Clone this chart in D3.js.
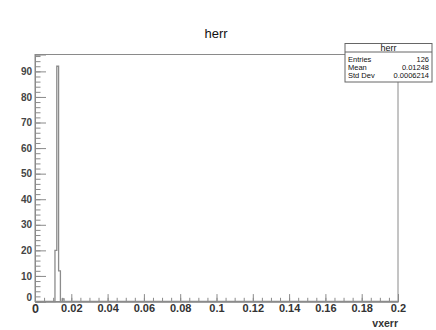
<!DOCTYPE html>
<html>
<head>
<meta charset="utf-8">
<script src="https://cdn.jsdelivr.net/npm/d3@7"></script>
<style>
  body { margin: 0; background: #fff; }
  svg { display: block; font-family: "Liberation Sans", Arial, sans-serif; }
</style>
</head>
<body>
<div id="chart"></div>
<script>
// histogram "herr" of vxerr, 200 bins on [0, 0.2]
const nBins = 200;
const xMin = 0, xMax = 0.2;
const filledBins = [11, 12, 13, 15];   // bin indices with entries
const binCounts = [20, 92, 12, 1];
const stats = [["Entries", "126"], ["Mean", "0.01248"], ["Std Dev", "0.0006214"]];
const xMajor = [0, 0.02, 0.04, 0.06, 0.08, 0.1, 0.12, 0.14, 0.16, 0.18, 0.2];
const yMajor = [0, 10, 20, 30, 40, 50, 60, 70, 80, 90];

const width = 436, height = 330;
const frame = { left: 35, right: 398, top: 54.5, bottom: 301.5 };
const yMax = 92 * 1.05;

const svg = d3.select("#chart").append("svg")
  .attr("width", width)
  .attr("height", height);

const x = d3.scaleLinear().domain([xMin, xMax]).range([frame.left, frame.right]);
const y = d3.scaleLinear().domain([0, yMax]).range([frame.bottom, frame.top]);

// title
svg.append("text")
  .attr("x", 216).attr("y", 37.5)
  .attr("text-anchor", "middle")
  .style("font-size", "13px")
  .style("fill", "#111")
  .text("herr");

// frame
svg.append("rect")
  .attr("x", frame.left).attr("y", frame.top)
  .attr("width", frame.right - frame.left)
  .attr("height", frame.bottom - frame.top)
  .attr("fill", "none")
  .attr("stroke", "#8a8a8a");

// histogram outline
const counts = new Array(nBins).fill(0);
filledBins.forEach((b, i) => { counts[b] = binCounts[i]; });
const bw = (xMax - xMin) / nBins;
const pts = [[xMin, 0]];
counts.forEach((c, i) => {
  pts.push([xMin + i * bw, c]);
  pts.push([xMin + (i + 1) * bw, c]);
});
pts.push([xMax, 0]);
svg.append("path")
  .attr("d", d3.line().x(d => x(d[0])).y(d => y(d[1]))(pts))
  .attr("fill", "none")
  .attr("stroke", "#8c8c8c")
  .attr("stroke-width", 1.3);

const fmt = d => String(+d.toFixed(2));

// x axis, ticks pointing up into the frame
const xAxisMinor = d3.axisBottom(x)
  .tickValues(d3.range(0, 41).map(i => i * 0.005))
  .tickSize(-3.7).tickFormat("");
const xAxis = d3.axisBottom(x)
  .tickValues(xMajor)
  .tickSize(-7.4).tickPadding(3)
  .tickFormat(fmt);

const gxm = svg.append("g").attr("transform", `translate(0,${frame.bottom})`).call(xAxisMinor);
const gx = svg.append("g").attr("transform", `translate(0,${frame.bottom})`).call(xAxis);

// y axis, ticks pointing right
const yAxisMinor = d3.axisLeft(y)
  .tickValues(d3.range(0, 97, 2))
  .tickSize(-5.5).tickFormat("");
const yAxis = d3.axisLeft(y)
  .tickValues(yMajor)
  .tickSize(-11).tickPadding(3)
  .tickFormat(d3.format("d"));

const gym = svg.append("g").attr("transform", `translate(${frame.left},0)`).call(yAxisMinor);
const gy = svg.append("g").attr("transform", `translate(${frame.left},0)`).call(yAxis);

[gxm, gx, gym, gy].forEach(g => {
  g.select(".domain").attr("stroke", "#8a8a8a");
  g.selectAll(".tick line").attr("stroke", "#8a8a8a");
});
gx.selectAll("text")
  .style("font-family", "Liberation Sans, Arial, sans-serif")
  .style("font-size", "11px").style("font-weight", "bold").style("fill", "#333");
gx.selectAll(".tick").filter(d => d === 0).select("text").style("font-size", "12.5px");
gy.selectAll("text")
  .style("font-family", "Liberation Sans, Arial, sans-serif")
  .style("font-size", "10px").style("font-weight", "bold").style("fill", "#444");
gy.selectAll(".tick").filter(d => d === 0).select("text").attr("dy", "-0.15em");

// x axis title
svg.append("text")
  .attr("x", frame.right).attr("y", 327)
  .attr("text-anchor", "end")
  .style("font-size", "10.5px").style("font-weight", "bold").style("fill", "#333")
  .text("vxerr");

// stats box
const box = { x: 345, y: 43.5, w: 87, h: 38.5 };
const gs = svg.append("g");
gs.append("rect")
  .attr("x", box.x).attr("y", box.y).attr("width", box.w).attr("height", box.h)
  .attr("fill", "#fff").attr("stroke", "#666");
gs.append("line")
  .attr("x1", box.x).attr("x2", box.x + box.w)
  .attr("y1", box.y + 8.5).attr("y2", box.y + 8.5)
  .attr("stroke", "#666");
gs.append("text")
  .attr("x", box.x + box.w / 2).attr("y", box.y + 7.5)
  .attr("text-anchor", "middle")
  .style("font-size", "9px").style("fill", "#111")
  .text("herr");
stats.forEach((s, i) => {
  const ty = box.y + 18 + i * 8.1;
  gs.append("text")
    .attr("x", box.x + 3).attr("y", ty)
    .style("font-size", "7.5px").style("fill", "#111")
    .text(s[0]);
  gs.append("text")
    .attr("x", box.x + box.w - 3).attr("y", ty)
    .attr("text-anchor", "end")
    .style("font-size", "7.5px").style("fill", "#111")
    .text(s[1]);
});
</script>
</body>
</html>
